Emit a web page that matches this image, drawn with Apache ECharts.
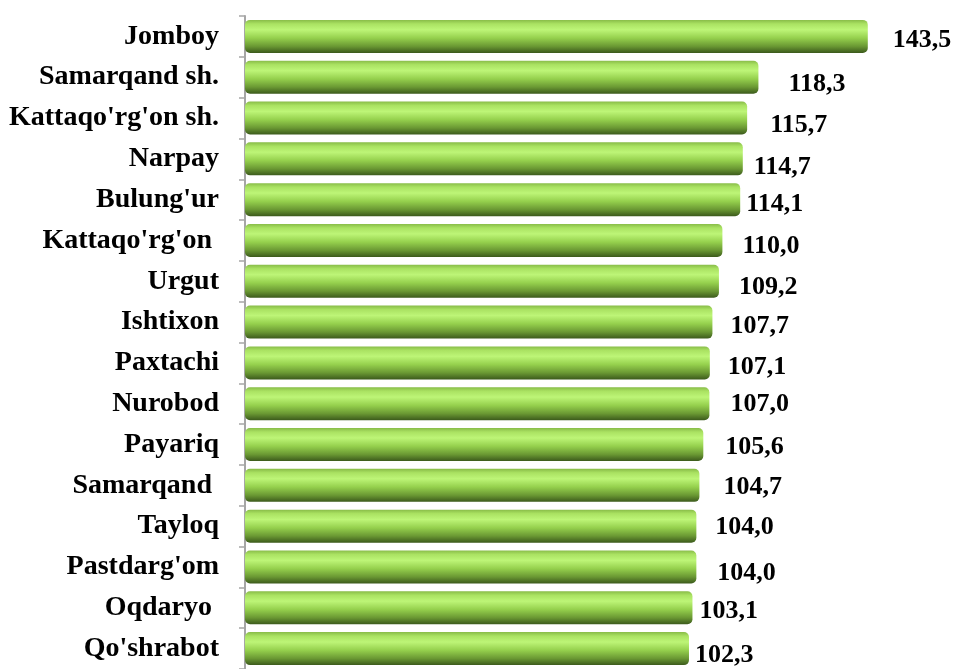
<!DOCTYPE html>
<html>
<head>
<meta charset="utf-8">
<script src="https://cdn.jsdelivr.net/npm/echarts@6/dist/echarts.min.js"></script>
<style>
  html, body { margin: 0; padding: 0; background: #fff; }
  #chart { width: 953px; height: 669px; }
</style>
</head>
<body>
<div id="chart"></div>
<script>
const districts = [
  'Jomboy', 'Samarqand sh.', "Kattaqo'rg'on sh.", 'Narpay', "Bulung'ur", "Kattaqo'rg'on ",
  'Urgut', 'Ishtixon', 'Paxtachi', 'Nurobod', 'Payariq', 'Samarqand ', 'Tayloq',
  "Pastdarg'om", 'Oqdaryo ', "Qo'shrabot"
];
const values = [143.5, 118.3, 115.7, 114.7, 114.1, 110.0, 109.2, 107.7, 107.1, 107.0, 105.6, 104.7, 104.0, 104.0, 103.1, 102.3];

// label nudges [dx, dy]
const labelNudge = [
  [20, 4], [25, 7], [18, 7], [6, 8], [1, 5], [15, 6], [15, 6], [13, 4],
  [13, 4], [16, 1], [17, 3], [19, 2], [14, 1], [16, 6], [2, 3], [1, 7]
];

const serif = '"Times New Roman", "Liberation Serif", serif';
const chart = echarts.init(document.getElementById('chart'));

const barFill = new echarts.graphic.LinearGradient(0, 0, 0, 1, [
  { offset: 0, color: '#88bc48' },
  { offset: 0.12, color: '#aae262' },
  { offset: 0.3, color: '#bdf577' },
  { offset: 0.55, color: '#95d04d' },
  { offset: 0.8, color: '#6a9833' },
  { offset: 1, color: '#3c5a1c' }
]);

const option = {
  animation: false,
  grid: { left: 245, right: 57, top: 16, height: 654 },
  xAxis: {
    type: 'value',
    min: 0,
    max: 150,
    show: false
  },
  yAxis: {
    type: 'category',
    inverse: true,
    data: districts,
    axisLine: { show: true, lineStyle: { color: '#a6a6a6', width: 2 } },
    axisTick: { show: true, length: 6, lineStyle: { color: '#a6a6a6', width: 1.5 } },
    axisLabel: {
      margin: 26,
      color: '#000',
      fontFamily: serif,
      fontWeight: 'bold',
      fontSize: 28
    },
    splitLine: { show: false }
  },
  series: [{
    type: 'bar',
    barWidth: 33,
    itemStyle: { color: barFill, borderRadius: 5 },
    data: values.map((v, i) => ({
      value: v,
      label: { offset: labelNudge[i] }
    })),
    label: {
      show: true,
      position: 'right',
      distance: 5,
      color: '#000',
      fontFamily: serif,
      fontWeight: 'bold',
      fontSize: 26,
      formatter: p => p.value.toFixed(1).replace('.', ',')
    }
  }]
};

chart.setOption(option);
window.addEventListener('resize', function () {
  chart.resize();
});
</script>
</body>
</html>
